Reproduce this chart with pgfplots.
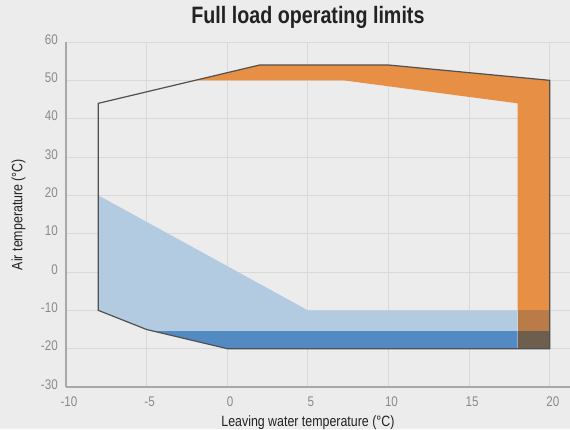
\documentclass[border=0pt]{standalone}
\usepackage{fontspec}
\setmainfont{Liberation Sans}[FakeStretch=0.83]
\usepackage{pgfplots}
\pgfplotsset{compat=1.18}
\definecolor{bg}{HTML}{ECECEC}
\definecolor{gridc}{HTML}{D9D9D9}
\definecolor{axc}{HTML}{A8A8A8}
\definecolor{tickc}{HTML}{8A8A8A}
\definecolor{txt}{HTML}{222222}
\definecolor{orangeF}{HTML}{E88F46}
\definecolor{lblue}{HTML}{B3CBE0}
\definecolor{dblue}{HTML}{548AC2}
\definecolor{brownL}{HTML}{B97C48}
\definecolor{brownD}{HTML}{6E5E4E}
\definecolor{outl}{HTML}{505050}
\begin{document}
\begin{tikzpicture}
\fill[bg] (0,0) rectangle (427.5pt,321.75pt);
\useasboundingbox (0,0) rectangle (427.5pt,321.75pt);
\begin{axis}[
  at={(49.5pt,31.5pt)}, anchor=south west,
  scale only axis, width=378pt, height=258.75pt,
  xmin=-10, xmax=21.25, ymin=-30, ymax=60,
  axis x line=bottom, axis y line=left,
  axis line style={-, draw=axc, line width=1.5pt},
  major tick length=0pt,
  xtick={-10,-5,0,5,10,15,20},
  xticklabels={-10,-5,0,5,10,15,20},
  ytick={-30,-20,-10,0,10,20,30,40,50,60},
  yticklabels={-30,-20,-10,0,10,20,30,40,50,60},
  grid=major,
  major grid style={draw=gridc, line width=0.75pt},
  tick label style={text=tickc, font=\fontsize{10.5pt}{12pt}\selectfont},
  xticklabel style={anchor=north, inner sep=0pt, yshift=-7.3pt, xshift=2.2pt},
  yticklabel style={anchor=east, inner sep=0pt, xshift=-6pt, yshift=2pt},
  title={Full load operating limits},
  title style={at={(axis description cs:0.480,1.030)}, anchor=base, font=\fontsize{17.8pt}{20pt}\selectfont\bfseries, text=txt, inner sep=0pt},
  xlabel={Leaving water temperature (°C)},
  xlabel style={at={(axis description cs:0.480,-0.115)}, anchor=base, font=\fontsize{11.2pt}{13pt}\selectfont, text=txt, inner sep=0pt},
  ylabel={Air temperature (°C)},
  ylabel style={at={(axis description cs:-0.094,0.5)}, anchor=center, rotate=0, font=\fontsize{11.2pt}{13pt}\selectfont, text=txt, inner sep=0pt},
]
% light blue region
\addplot[draw=none, fill=lblue] coordinates {(-8,20) (5,-10) (18,-10) (18,-15.4) (-4.6,-15.4) (-5,-15) (-8,-10)} -- cycle;
% dark blue band
\addplot[draw=none, fill=dblue] coordinates {(-4.6,-15.4) (18,-15.4) (18,-20) (0,-20)} -- cycle;
% orange region
\addplot[draw=none, fill=orangeF] coordinates {(-2,50) (2,54) (10,54) (20,50) (20,-10) (18,-10) (18,44) (7.2,50)} -- cycle;
% overlaps
\addplot[draw=none, fill=brownL] coordinates {(18,-10) (20,-10) (20,-15.4) (18,-15.4)} -- cycle;
\addplot[draw=none, fill=brownD] coordinates {(18,-15.4) (20,-15.4) (20,-20) (18,-20)} -- cycle;
% outline of operating envelope
\addplot[draw=outl, line width=0.9pt, line join=miter] coordinates {(-8,44) (2,54) (10,54) (20,50) (20,-20) (0,-20) (-5,-15) (-8,-10)} -- cycle;
\end{axis}
\end{tikzpicture}
\end{document}
